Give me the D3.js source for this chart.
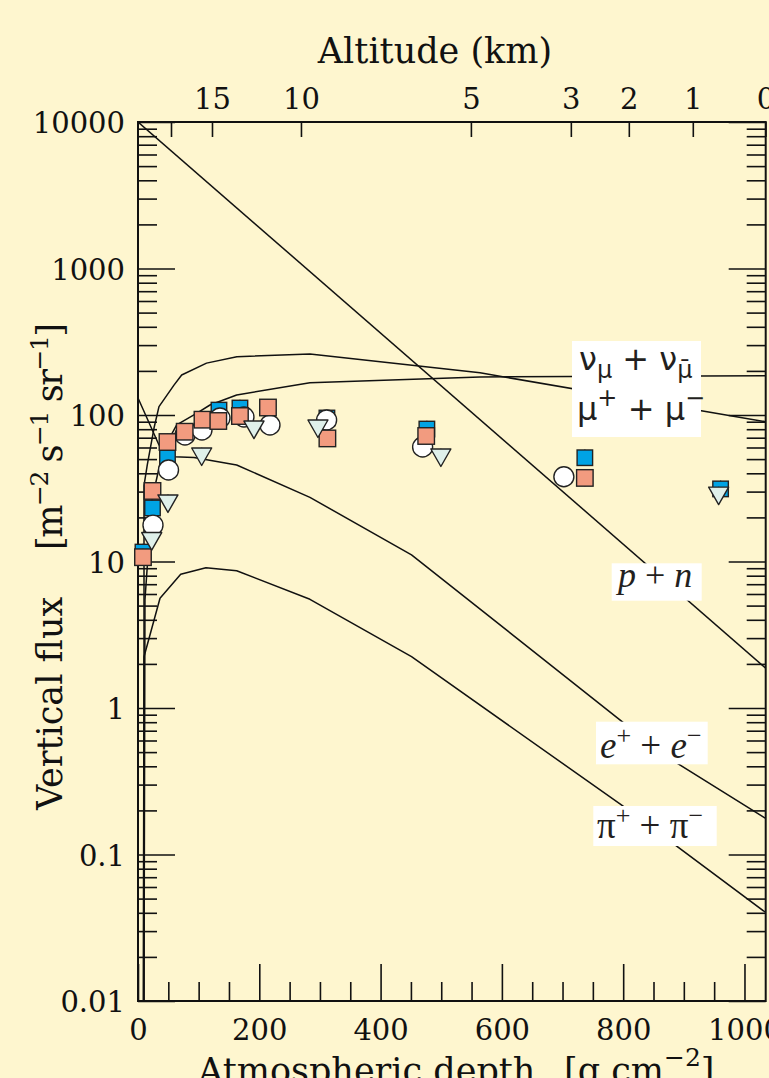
<!DOCTYPE html>
<html><head><meta charset="utf-8">
<script src="https://cdn.jsdelivr.net/npm/d3@7"></script>
<style>
html,body{margin:0;padding:0;background:#fef6cf;}
svg{display:block}
</style></head><body>
<svg id="c" width="769" height="1078"></svg>
<script>
// ---------- data (depth in g/cm^2, flux in m^-2 s^-1 sr^-1) ----------
const pnDepth = [0, 1035];
const pnFlux  = [10000, 1.87];
const muDepth = [9.9, 9.9, 15.3, 26.4, 34.6, 59.3, 72, 113, 163, 283.5, 564, 1035];
const muFlux  = [0.01, 33, 45.6, 81.5, 114, 160, 187.5, 226, 250, 261, 194, 90];
const nuDepth = [9.9, 11.5, 23, 41.2, 63.8, 97.2, 118.7, 162.7, 283.5, 564, 1035];
const nuFlux  = [0.01, 5.5, 26.3, 57.7, 85.5, 103, 117, 137, 166, 182, 185];
const eDepth  = [0, 34.6, 59.3, 92.3, 162.7, 283.5, 451, 870, 1034];
const eFlux   = [130.6, 62.4, 51.9, 51.2, 45.6, 27.4, 11.1, 0.47, 0.177];
const piDepth = [8.7, 9.9, 36.3, 70.4, 112, 162.7, 283.5, 451, 797, 1034];
const piFlux  = [0.01, 2.24, 5.61, 8.18, 9.07, 8.65, 5.52, 2.24, 0.218, 0.0405];

const blueDepth   = [8.2, 23.9, 48.6, 133.5, 168.1, 311.5, 476.3, 736.8, 960.6];
const blueFlux    = [11.6, 23.2, 52.5, 108, 111.6, 95.4, 80.2, 51.1, 31.3];
const circleDepth = [24.7, 50.3, 77.5, 105.5, 135.2, 174.7, 217.6, 311, 469.3, 702.2];
const circleFlux  = [17.7, 42.1, 73, 79, 95.4, 96.9, 85.5, 92.5, 60.5, 37.9];
const salmonDepth = [8.2, 23.9, 48.6, 77, 106.3, 132.4, 168.1, 214.3, 312.3, 475.2, 736.8];
const salmonFlux  = [10.7, 30.3, 65.4, 76.9, 92.9, 91, 98.4, 112.5, 69.2, 71.9, 37.2];
const triDepth    = [22.6, 49.4, 105, 191.2, 296.7, 499.4, 957.4];
const triFlux     = [13.9, 25.1, 52.5, 80.2, 81.5, 51.7, 28.4];
const errFrac = 0.14;

const xMajor = [0, 200, 400, 600, 800, 1000];
const xTickLabels = ["0", "200", "400", "600", "800", "1000"];
const xMinor = [50, 100, 150, 250, 300, 350, 450, 500, 550, 650, 700, 750, 850, 900, 950];
const yMajor = [0.01, 0.1, 1, 10, 100, 1000, 10000];
const yTickLabels = ["0.01", "0.1", "1", "10", "100", "1000", "10000"];
const yMinorMult = [2, 3, 4, 5, 6, 7, 8, 9];
const altDepth = [54.4, 122, 268.7, 548.9, 713.7, 809.3, 914.8, 1034.6];
const altLabels = ["", "15", "10", "5", "3", "2", "1", "0"];

// ---------- setup ----------
const W = 769, H = 1078;
const BG = "#fef6cf";
const svg = d3.select("#c");
svg.append("rect").attr("width", W).attr("height", H).attr("fill", BG);

const x = d3.scaleLinear().domain([0, 1035]).range([138, 765.7]);
const y = d3.scaleLog().domain([0.01, 10000]).range([1001, 122]);
const yMinor = [];
yMajor.slice(0, -1).forEach(b => yMinorMult.forEach(k => yMinor.push(k * b)));

const serif = "DejaVu Serif";

svg.append("clipPath").attr("id", "clip").append("rect")
  .attr("x", x(0)).attr("y", y(10000)).attr("width", x(1035) - x(0)).attr("height", y(0.01) - y(10000));

// ---------- curves ----------
const line = d3.line().x(d => x(d[0])).y(d => y(d[1]));
const curves = [[pnDepth, pnFlux], [muDepth, muFlux], [nuDepth, nuFlux], [eDepth, eFlux], [piDepth, piFlux]];
const cg = svg.append("g").attr("clip-path", "url(#clip)");
curves.forEach(([ds, fs]) => {
  cg.append("path").attr("d", line(ds.map((d, i) => [d, fs[i]])))
    .attr("fill", "none").attr("stroke", "#111").attr("stroke-width", 1.5).attr("stroke-linejoin", "round");
});

// ---------- axes ----------
function style(g) {
  g.select(".domain").remove();
  g.selectAll(".tick line").attr("stroke", "#111").attr("stroke-width", 1.6);
  g.selectAll("text").attr("font-family", serif).attr("font-size", 29).attr("fill", "#111");
}
svg.append("g").attr("transform", `translate(${x(0)},0)`)
  .call(d3.axisLeft(y).tickValues(yMajor).tickSize(-37).tickPadding(13).tickFormat((d, i) => yTickLabels[i]))
  .call(style).selectAll("text").attr("dy", "0.37em");
svg.append("g").attr("transform", `translate(${x(0)},0)`)
  .call(d3.axisLeft(y).tickValues(yMinor).tickSize(-19).tickFormat(""))
  .call(style);
svg.append("g").attr("transform", `translate(${x(1035)},0)`)
  .call(d3.axisRight(y).tickValues(yMajor).tickSize(-37).tickFormat(""))
  .call(style);
svg.append("g").attr("transform", `translate(${x(1035)},0)`)
  .call(d3.axisRight(y).tickValues(yMinor).tickSize(-19).tickFormat(""))
  .call(style);
svg.append("g").attr("transform", `translate(0,${y(0.01)})`)
  .call(d3.axisBottom(x).tickValues(xMajor).tickSize(-37).tickPadding(18.5).tickFormat((d, i) => xTickLabels[i]))
  .call(style);
svg.append("g").attr("transform", `translate(0,${y(0.01)})`)
  .call(d3.axisBottom(x).tickValues(xMinor).tickSize(-19).tickFormat(""))
  .call(style);
svg.append("g").attr("transform", `translate(0,${y(10000)})`)
  .call(d3.axisTop(x).tickValues(altDepth).tickSize(-15).tickPadding(13).tickFormat((d, i) => altLabels[i]))
  .call(style);

svg.append("rect").attr("x", x(0)).attr("y", y(10000))
  .attr("width", x(1035) - x(0)).attr("height", y(0.01) - y(10000))
  .attr("fill", "none").attr("stroke", "#111").attr("stroke-width", 2);

// ---------- markers ----------
const mg = svg.append("g");
function errbars(ds, fs) {
  ds.forEach((d, i) => {
    mg.append("line").attr("x1", x(d)).attr("x2", x(d))
      .attr("y1", y(fs[i] / (1 + errFrac))).attr("y2", y(fs[i] * (1 + errFrac)))
      .attr("stroke", "#222").attr("stroke-width", 1.3);
  });
}
function squares(ds, fs, fill, s) {
  errbars(ds, fs);
  ds.forEach((d, i) => {
    mg.append("rect").attr("x", x(d) - s / 2).attr("y", y(fs[i]) - s / 2).attr("width", s).attr("height", s)
      .attr("fill", fill).attr("stroke", "#222").attr("stroke-width", 1.4);
  });
}
function circles(ds, fs) {
  errbars(ds, fs);
  ds.forEach((d, i) => {
    mg.append("circle").attr("cx", x(d)).attr("cy", y(fs[i])).attr("r", 10)
      .attr("fill", "#fff").attr("stroke", "#222").attr("stroke-width", 1.4);
  });
}
function triangles(ds, fs) {
  errbars(ds, fs);
  ds.forEach((d, i) => {
    const cx = x(d), cy = y(fs[i]);
    mg.append("path").attr("d", `M${cx - 10},${cy - 8}L${cx + 10},${cy - 8}L${cx},${cy + 9.5}Z`)
      .attr("fill", "#dff0ea").attr("stroke", "#222").attr("stroke-width", 1.4).attr("stroke-linejoin", "round");
  });
}
squares(blueDepth, blueFlux, "#00a3e4", 15.5);
circles(circleDepth, circleFlux);
squares(salmonDepth, salmonFlux, "#f29b7f", 16.5);
triangles(triDepth, triFlux);

// ---------- curve labels ----------
const ink = "#231f20";
function box(x0, y0, x1, y1) {
  svg.append("rect").attr("x", x0).attr("y", y0).attr("width", x1 - x0).attr("height", y1 - y0).attr("fill", "#fff");
}
box(572, 341, 701, 437);
box(611.7, 563.3, 701.7, 600.7);
box(596, 721.7, 707.7, 764.3);
box(593.3, 806, 716.7, 846);

const sans = "DejaVu Sans";
let t = svg.append("text").attr("x", 579).attr("y", 370).attr("font-family", sans).attr("font-size", 32).attr("fill", ink);
t.append("tspan").text("ν");
t.append("tspan").attr("font-size", 24).attr("dy", 8).text("μ");
t.append("tspan").attr("dy", -8).text(" + ν");
t.append("tspan").attr("font-size", 24).attr("dy", 8).text("μ\u0304");

t = svg.append("text").attr("x", 577).attr("y", 420).attr("font-family", sans).attr("font-size", 32).attr("fill", ink);
t.append("tspan").text("μ");
t.append("tspan").attr("font-size", 24).attr("dy", -14).text("+");
t.append("tspan").attr("dy", 14).text(" + μ");
t.append("tspan").attr("font-size", 24).attr("dy", -14).text("−");

const lib = "Liberation Serif";
t = svg.append("text").attr("x", 618).attr("y", 587).attr("font-family", lib).attr("font-size", 36).attr("fill", ink);
t.append("tspan").attr("font-style", "italic").text("p");
t.append("tspan").text(" + ");
t.append("tspan").attr("font-style", "italic").text("n");

t = svg.append("text").attr("x", 600).attr("y", 758).attr("font-family", lib).attr("font-size", 37).attr("fill", ink);
t.append("tspan").attr("font-style", "italic").text("e");
t.append("tspan").attr("font-size", 26).attr("dy", -14).text("+");
t.append("tspan").attr("dy", 14).text(" + ");
t.append("tspan").attr("font-style", "italic").text("e");
t.append("tspan").attr("font-size", 26).attr("dy", -14).text("−");

t = svg.append("text").attr("x", 597).attr("y", 838).attr("font-family", lib).attr("font-size", 37).attr("fill", ink);
t.append("tspan").text("π");
t.append("tspan").attr("font-size", 26).attr("dy", -14).text("+");
t.append("tspan").attr("dy", 14).text(" + π");
t.append("tspan").attr("font-size", 26).attr("dy", -14).text("−");

// ---------- titles ----------
svg.append("text").attr("x", 435).attr("y", 63).attr("text-anchor", "middle")
  .attr("font-family", serif).attr("font-size", 35).attr("fill", "#111").text("Altitude (km)");

svg.append("text").attr("x", 198).attr("y", 1083).attr("font-family", serif).attr("font-size", 35).attr("fill", "#111")
  .text("Atmospheric depth");
t = svg.append("text").attr("x", 564).attr("y", 1083).attr("font-family", serif).attr("font-size", 35).attr("fill", "#111");
t.append("tspan").text("[g cm");
t.append("tspan").attr("font-size", 25).attr("dy", -17).text("−2");
t.append("tspan").attr("dy", 17).text("]");

const yt = svg.append("g").attr("transform", "translate(62,0) rotate(-90)");
yt.append("text").attr("x", -810).attr("y", 0).attr("font-family", serif).attr("font-size", 35).attr("fill", "#111")
  .text("Vertical flux");
t = yt.append("text").attr("x", -550).attr("y", 0).attr("font-family", serif).attr("font-size", 35).attr("fill", "#111")
  .attr("textLength", 227).attr("lengthAdjust", "spacing");
t.append("tspan").text("[m");
t.append("tspan").attr("font-size", 25).attr("dy", -14).text("−2");
t.append("tspan").attr("dy", 14).text(" s");
t.append("tspan").attr("font-size", 25).attr("dy", -14).text("−1");
t.append("tspan").attr("dy", 14).text(" sr");
t.append("tspan").attr("font-size", 25).attr("dy", -14).text("−1");
t.append("tspan").attr("dy", 14).text("]");
</script>
</body></html>
